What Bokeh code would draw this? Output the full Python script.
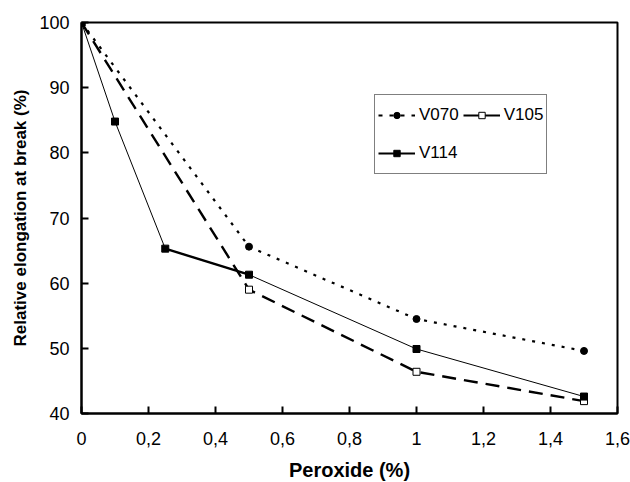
from bokeh.plotting import figure
from bokeh.models import Range1d, FixedTicker, CustomJSTickFormatter, Legend, LegendItem
from bokeh.embed import file_html
from bokeh.resources import INLINE

# Data
x070 = [0, 0.5, 1.0, 1.5]
y070 = [100, 65.6, 54.5, 49.6]
x105 = [0, 0.5, 1.0, 1.5]
y105 = [100, 59.0, 46.4, 41.9]
x114 = [0, 0.1, 0.25, 0.5, 1.0, 1.5]
y114 = [100, 84.8, 65.3, 61.3, 49.9, 42.6]
x_ticks = [0, 0.2, 0.4, 0.6, 0.8, 1.0, 1.2, 1.4, 1.6]
y_ticks = [40, 50, 60, 70, 80, 90, 100]

FONT = "Liberation Sans"

p = figure(width=630, height=482, output_backend="svg", toolbar_location=None,
           x_range=Range1d(0, 1.6), y_range=Range1d(40, 100),
           min_border_left=81, min_border_right=13, min_border_top=22, min_border_bottom=69,
           frame_width=536, frame_height=391)
p.grid.visible = False
p.outline_line_color = "black"
p.outline_line_width = 2
p.background_fill_color = "white"
p.border_fill_color = "white"

for ax in (p.xaxis[0], p.yaxis[0]):
    ax.axis_line_width = 2
    ax.axis_line_color = "black"
    ax.major_tick_in = 7
    ax.major_tick_out = 0
    ax.major_tick_line_width = 2
    ax.minor_tick_line_color = None
    ax.major_label_text_font = FONT
    ax.major_label_text_font_size = "18px"
    ax.major_label_text_color = "black"
    ax.axis_label_text_font = FONT
    ax.axis_label_text_font_style = "bold"
    ax.axis_label_text_color = "black"

p.xaxis.axis_label_text_font_size = "20px"
p.yaxis.axis_label_text_font_size = "17px"
p.xaxis.ticker = FixedTicker(ticks=x_ticks)
p.yaxis.ticker = FixedTicker(ticks=y_ticks)
p.xaxis.formatter = CustomJSTickFormatter(code="var s=(Math.round(tick*10)/10).toString(); return s.replace('.', ',');")
p.xaxis.major_label_standoff = 18
p.yaxis.major_label_standoff = 12
p.xaxis.axis_label = "Peroxide (%)"
p.yaxis.axis_label = "Relative elongation at break (%)"
p.xaxis.axis_label_standoff = 11
p.yaxis.axis_label_standoff = 6

# Series
p.line(x070, y070, line_color="black", line_width=2.2, line_dash="3 7")
p.scatter(x070, y070, marker="circle", size=7, fill_color="black", line_color="black")

p.line(x105, y105, line_color="black", line_width=2.4, line_dash="14 8")
p.scatter(x105, y105, marker="square", size=7, fill_color="white", line_color="black", line_width=1)

p.line(x114, y114, line_color="black", line_width=1)
p.line(x114[2:4], y114[2:4], line_color="black", line_width=2.4)
p.scatter(x114, y114, marker="square", size=7, fill_color="black", line_color="black")

# Legend-only renderers (hidden, drawn only as legend glyphs)
l1a = p.line(x070, y070, line_color="black", line_width=2, line_dash="4 7", visible=False)
l1b = p.scatter(x070, y070, marker="circle", size=7, fill_color="black", line_color="black", visible=False)
l2a = p.line(x105, y105, line_color="black", line_width=2, visible=False)
l2b = p.scatter(x105, y105, marker="square", size=6, fill_color="white", line_color="black", visible=False)
l3a = p.line(x114, y114, line_color="black", line_width=2, visible=False)
l3b = p.scatter(x114, y114, marker="square", size=6, fill_color="black", line_color="black", visible=False)

legend = Legend(items=[LegendItem(label="V070", renderers=[l1a, l1b]),
                       LegendItem(label="V114", renderers=[l3a, l3b]),
                       LegendItem(label="V105", renderers=[l2a, l2b])],
                ncols=2, location=(293, 239))
legend.label_text_font = FONT
legend.label_text_font_size = "17px"
legend.label_text_color = "black"
legend.border_line_color = "black"
legend.border_line_width = 1
legend.background_fill_alpha = 1
legend.inactive_fill_alpha = 0
legend.glyph_width = 37
legend.glyph_height = 16
legend.label_height = 34
legend.label_standoff = 4
legend.spacing = 4
legend.padding = 3
legend.margin = 0
p.add_layout(legend, "center")

open("out.html", "w").write(file_html(p, INLINE))
